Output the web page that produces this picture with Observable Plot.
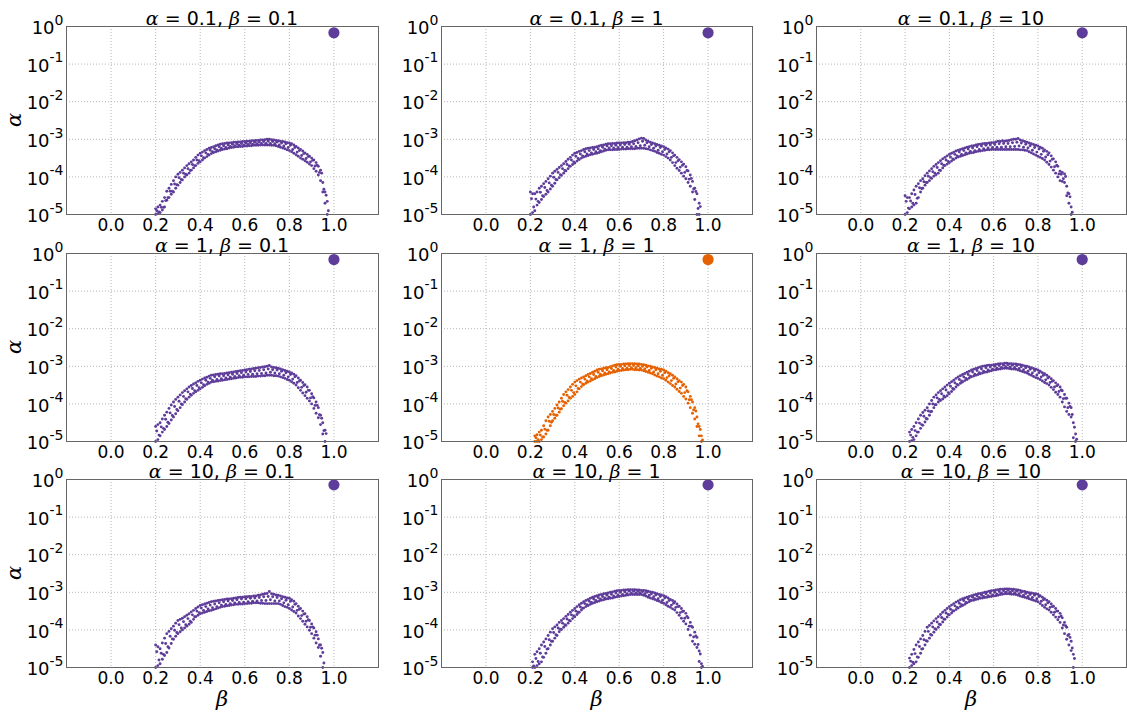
<!DOCTYPE html>
<html><head><meta charset="utf-8">
<script src="https://cdn.jsdelivr.net/npm/d3@7"></script>
<script src="https://cdn.jsdelivr.net/npm/@observablehq/plot@0.6"></script>
<style>
body{margin:0;background:#fff;}
#root{position:relative;width:1127px;height:715px;overflow:hidden;background:#fff;font-family:"DejaVu Sans",sans-serif;color:#000;}
.title{position:absolute;font-size:19px;line-height:19px;white-space:nowrap;text-align:center;}
.m{font-family:"DejaVu Serif",serif;font-style:italic;}
.panel{position:absolute;}
.lab{position:absolute;font-family:"DejaVu Serif",serif;font-style:italic;font-size:21px;line-height:21px;white-space:nowrap;}
</style></head><body><div id="root"></div><script>
// ---------- data ----------
const alphaValues = ["0.1", "1", "10"];   // rows
const betaValues  = ["0.1", "1", "10"];   // columns
const betaTicks  = [0, 0.2, 0.4, 0.6, 0.8, 1.0];
const alphaTicks = [1e-5, 1e-4, 1e-3, 1e-2, 1e-1, 1];

const betaA = [0.20,0.21,0.22,0.23,0.24,0.25,0.26,0.27,0.28,0.29,
0.30,0.31,0.32,0.33,0.34,0.35,0.36,0.37,0.38,0.39,
0.40,0.41,0.42,0.43,0.44,0.45,0.46,0.47,0.48,0.49,
0.50,0.51,0.52,0.53,0.54,0.55,0.56,0.57,0.58,0.59,
0.60,0.61,0.62,0.63,0.64,0.65,0.66,0.67,0.68,0.69,
0.70,0.71,0.72,0.73,0.74,0.75,0.76,0.77,0.78,0.79,
0.80,0.81,0.82,0.83,0.84,0.85,0.86,0.87,0.88,0.89,
0.90,0.91,0.92,0.93,0.94,0.95,0.96,0.97];
const betaB = [0.205,0.215,0.225,0.235,0.245,0.255,0.265,0.275,0.285,0.295,
0.305,0.315,0.325,0.335,0.345,0.355,0.365,0.375,0.385,0.395,
0.405,0.415,0.425,0.435,0.445,0.455,0.465,0.475,0.485,0.495,
0.505,0.515,0.525,0.535,0.545,0.555,0.565,0.575,0.585,0.595,
0.605,0.615,0.625,0.635,0.645,0.655,0.665,0.675,0.685,0.695,
0.705,0.715,0.725,0.735,0.745,0.755,0.765,0.775,0.785,0.795,
0.805,0.815,0.825,0.835,0.845,0.855,0.865,0.875,0.885,0.895,
0.905,0.915,0.925,0.935,0.945,0.955,0.965,0.975];

// log10(alpha) of the scattered points: upper edge (Hi, at betaA), inner scatter (Mid, at betaB), lower edge (Lo, at betaA)
// panel 1: alpha=0.1, beta=0.1
const p1Hi = [-4.85,-4.80,-4.75,-4.65,-4.55,-4.38,-4.30,-4.20,-4.10,-4.00,
-3.93,-3.88,-3.82,-3.76,-3.70,-3.65,-3.60,-3.55,-3.48,-3.42,
-3.37,-3.34,-3.30,-3.27,-3.24,-3.22,-3.20,-3.17,-3.15,-3.13,
-3.12,-3.11,-3.10,-3.10,-3.09,-3.08,-3.08,-3.07,-3.07,-3.06,
-3.06,-3.05,-3.05,-3.04,-3.04,-3.03,-3.03,-3.02,-3.02,-3.01,
-3.00,-3.00,-3.01,-3.02,-3.03,-3.04,-3.05,-3.06,-3.07,-3.09,
-3.10,-3.12,-3.15,-3.19,-3.23,-3.27,-3.31,-3.36,-3.40,-3.45,
-3.50,-3.55,-3.62,-3.72,-3.82,-4.15,-4.40,-4.65];
const p1Mid = [-4.90,-4.93,-4.81,-4.81,-4.63,-4.55,-4.38,-4.38,-4.19,-4.21,
-4.02,-4.07,-3.90,-3.93,-3.78,-3.83,-3.67,-3.70,-3.55,-3.57,
-3.44,-3.49,-3.36,-3.40,-3.29,-3.33,-3.25,-3.28,-3.20,-3.24,
-3.17,-3.22,-3.15,-3.19,-3.13,-3.17,-3.12,-3.16,-3.11,-3.15,
-3.10,-3.14,-3.09,-3.13,-3.08,-3.12,-3.07,-3.11,-3.06,-3.11,
-3.05,-3.11,-3.06,-3.12,-3.07,-3.15,-3.10,-3.18,-3.12,-3.22,
-3.16,-3.27,-3.22,-3.34,-3.30,-3.43,-3.38,-3.51,-3.46,-3.60,
-3.56,-3.71,-3.69,-3.88,-3.90,-4.33,-4.49,-4.90];
const p1Lo = [-5.00,-4.98,-4.95,-4.88,-4.80,-4.62,-4.55,-4.46,-4.40,-4.30,
-4.22,-4.15,-4.08,-4.00,-3.95,-3.90,-3.82,-3.76,-3.70,-3.64,
-3.60,-3.55,-3.50,-3.46,-3.42,-3.38,-3.35,-3.33,-3.31,-3.29,
-3.27,-3.26,-3.25,-3.23,-3.22,-3.21,-3.20,-3.20,-3.19,-3.19,
-3.18,-3.18,-3.17,-3.17,-3.16,-3.16,-3.16,-3.15,-3.15,-3.15,
-3.15,-3.15,-3.16,-3.16,-3.17,-3.19,-3.21,-3.23,-3.25,-3.28,
-3.30,-3.33,-3.37,-3.41,-3.45,-3.50,-3.53,-3.57,-3.61,-3.66,
-3.70,-3.78,-3.85,-3.95,-4.10,-4.40,-4.70,-5.00];
// panel 2: alpha=0.1, beta=1
const p2Hi = [-4.40,-4.45,-4.45,-4.40,-4.30,-4.25,-4.18,-4.12,-4.05,-3.98,
-3.90,-3.85,-3.80,-3.75,-3.70,-3.65,-3.59,-3.53,-3.48,-3.42,
-3.37,-3.35,-3.32,-3.30,-3.27,-3.25,-3.24,-3.23,-3.22,-3.21,
-3.20,-3.18,-3.16,-3.15,-3.13,-3.12,-3.12,-3.11,-3.11,-3.10,
-3.10,-3.10,-3.09,-3.09,-3.08,-3.08,-3.06,-3.04,-3.02,-2.99,
-2.97,-2.98,-3.02,-3.05,-3.08,-3.10,-3.12,-3.14,-3.16,-3.18,
-3.20,-3.23,-3.26,-3.30,-3.36,-3.42,-3.48,-3.54,-3.60,-3.66,
-3.73,-3.84,-3.95,-4.12,-4.30,-4.45,-4.70,null];
const p2Mid = [-4.58,-4.80,-4.59,-4.65,-4.41,-4.50,-4.28,-4.36,-4.16,-4.22,
-4.01,-4.07,-3.88,-3.94,-3.78,-3.83,-3.67,-3.71,-3.55,-3.60,
-3.45,-3.51,-3.39,-3.44,-3.33,-3.39,-3.30,-3.36,-3.27,-3.33,
-3.25,-3.30,-3.21,-3.26,-3.18,-3.23,-3.17,-3.23,-3.16,-3.22,
-3.15,-3.21,-3.14,-3.21,-3.13,-3.20,-3.12,-3.19,-3.09,-3.17,
-3.05,-3.16,-3.09,-3.20,-3.14,-3.24,-3.18,-3.29,-3.22,-3.33,
-3.27,-3.39,-3.33,-3.48,-3.44,-3.62,-3.57,-3.74,-3.69,-3.88,
-3.83,-4.06,-4.04,-4.32,-4.39,-4.84,-4.79,null];
const p2Lo = [-5.00,-4.95,-4.90,-4.75,-4.68,-4.60,-4.52,-4.46,-4.40,-4.32,
-4.25,-4.17,-4.08,-4.02,-3.96,-3.90,-3.84,-3.78,-3.72,-3.67,
-3.63,-3.58,-3.54,-3.50,-3.47,-3.45,-3.43,-3.41,-3.40,-3.38,
-3.37,-3.35,-3.33,-3.31,-3.29,-3.28,-3.28,-3.28,-3.27,-3.27,
-3.27,-3.26,-3.26,-3.26,-3.25,-3.25,-3.25,-3.25,-3.24,-3.24,
-3.24,-3.24,-3.25,-3.26,-3.28,-3.30,-3.32,-3.35,-3.37,-3.40,
-3.42,-3.46,-3.50,-3.55,-3.62,-3.70,-3.77,-3.83,-3.90,-3.98,
-4.05,-4.15,-4.25,-4.40,-4.60,-5.00,-5.00,null];
// panel 3: alpha=0.1, beta=10
const p3Hi = [-4.50,-4.55,-4.55,-4.45,-4.35,-4.25,-4.18,-4.10,-4.05,-3.97,
-3.90,-3.84,-3.78,-3.72,-3.67,-3.62,-3.57,-3.52,-3.48,-3.44,
-3.40,-3.37,-3.34,-3.31,-3.29,-3.27,-3.25,-3.23,-3.21,-3.20,
-3.18,-3.17,-3.15,-3.14,-3.13,-3.12,-3.11,-3.11,-3.10,-3.09,
-3.09,-3.07,-3.05,-3.06,-3.04,-3.05,-3.04,-3.03,-3.01,-3.00,
-3.00,-2.98,-3.02,-3.04,-3.06,-3.08,-3.10,-3.12,-3.14,-3.16,
-3.18,-3.21,-3.24,-3.28,-3.32,-3.36,-3.44,-3.52,-3.60,-3.72,
-3.85,-3.88,-3.92,-4.25,-4.45,-4.80,null,null];
const p3Mid = [-4.65,-4.83,-4.64,-4.70,-4.47,-4.57,-4.29,-4.31,-4.13,-4.15,
-3.98,-4.02,-3.86,-3.90,-3.75,-3.82,-3.65,-3.69,-3.55,-3.59,
-3.47,-3.52,-3.40,-3.44,-3.34,-3.40,-3.30,-3.36,-3.26,-3.32,
-3.23,-3.30,-3.20,-3.27,-3.18,-3.25,-3.16,-3.23,-3.15,-3.22,
-3.14,-3.21,-3.12,-3.21,-3.11,-3.20,-3.11,-3.20,-3.09,-3.19,
-3.08,-3.18,-3.10,-3.21,-3.13,-3.23,-3.17,-3.29,-3.22,-3.34,
-3.26,-3.40,-3.32,-3.47,-3.41,-3.58,-3.53,-3.73,-3.69,-3.92,
-3.93,-4.05,-3.99,-4.43,-4.53,-4.94,null,null];
const p3Lo = [-5.00,-4.95,-4.85,-4.80,-4.75,-4.70,-4.55,-4.40,-4.30,-4.22,
-4.15,-4.10,-4.04,-3.98,-3.94,-3.90,-3.83,-3.76,-3.70,-3.66,
-3.62,-3.58,-3.54,-3.50,-3.47,-3.45,-3.43,-3.41,-3.39,-3.37,
-3.36,-3.35,-3.33,-3.32,-3.31,-3.30,-3.29,-3.28,-3.28,-3.27,
-3.27,-3.27,-3.27,-3.27,-3.27,-3.27,-3.27,-3.27,-3.27,-3.27,
-3.27,-3.27,-3.28,-3.28,-3.29,-3.30,-3.33,-3.36,-3.39,-3.42,
-3.45,-3.48,-3.51,-3.55,-3.61,-3.67,-3.74,-3.82,-3.90,-4.00,
-4.10,-4.12,-4.15,-4.50,-4.70,-5.00,null,null];
// panel 4: alpha=1, beta=0.1
const p4Hi = [-4.60,-4.55,-4.50,-4.40,-4.30,-4.22,-4.12,-4.03,-3.95,-3.88,
-3.82,-3.76,-3.70,-3.65,-3.60,-3.55,-3.51,-3.47,-3.44,-3.40,
-3.37,-3.34,-3.31,-3.29,-3.26,-3.24,-3.23,-3.22,-3.21,-3.20,
-3.20,-3.19,-3.18,-3.17,-3.16,-3.15,-3.14,-3.13,-3.12,-3.11,
-3.10,-3.09,-3.08,-3.07,-3.06,-3.05,-3.04,-3.03,-3.02,-3.01,
-3.00,-2.98,-3.02,-3.03,-3.04,-3.05,-3.07,-3.09,-3.11,-3.13,
-3.15,-3.18,-3.21,-3.25,-3.31,-3.37,-3.43,-3.49,-3.55,-3.64,
-3.73,-3.84,-3.95,-4.10,-4.30,-4.50,-4.70,null];
const p4Mid = [-4.72,-4.83,-4.61,-4.65,-4.41,-4.49,-4.24,-4.31,-4.07,-4.15,
-3.93,-4.00,-3.80,-3.86,-3.68,-3.74,-3.59,-3.65,-3.51,-3.57,
-3.44,-3.49,-3.37,-3.42,-3.32,-3.37,-3.28,-3.35,-3.26,-3.33,
-3.25,-3.31,-3.23,-3.29,-3.21,-3.27,-3.19,-3.25,-3.17,-3.24,
-3.15,-3.22,-3.14,-3.21,-3.12,-3.20,-3.11,-3.19,-3.09,-3.18,
-3.07,-3.16,-3.09,-3.18,-3.10,-3.20,-3.13,-3.24,-3.17,-3.28,
-3.22,-3.34,-3.28,-3.43,-3.39,-3.56,-3.51,-3.69,-3.64,-3.84,
-3.81,-4.04,-4.04,-4.29,-4.38,-4.71,-4.79,null];
const p4Lo = [-5.00,-4.95,-4.85,-4.75,-4.68,-4.60,-4.52,-4.43,-4.35,-4.26,
-4.18,-4.10,-4.02,-3.95,-3.88,-3.82,-3.77,-3.72,-3.68,-3.64,
-3.60,-3.56,-3.52,-3.48,-3.45,-3.42,-3.41,-3.40,-3.39,-3.38,
-3.37,-3.36,-3.35,-3.34,-3.33,-3.32,-3.31,-3.30,-3.29,-3.29,
-3.28,-3.28,-3.28,-3.27,-3.27,-3.27,-3.26,-3.26,-3.25,-3.25,
-3.24,-3.24,-3.24,-3.25,-3.25,-3.26,-3.28,-3.30,-3.32,-3.35,
-3.37,-3.41,-3.45,-3.50,-3.57,-3.64,-3.71,-3.78,-3.85,-3.92,
-4.00,-4.12,-4.25,-4.37,-4.55,-4.80,-5.00,null];
// panel 5: alpha=1, beta=1 (highlighted)
const p5Hi = [null,null,-4.85,-4.82,-4.75,-4.70,-4.58,-4.45,-4.35,-4.28,
-4.20,-4.12,-4.03,-3.95,-3.85,-3.75,-3.68,-3.62,-3.55,-3.48,
-3.42,-3.38,-3.34,-3.31,-3.28,-3.25,-3.22,-3.19,-3.16,-3.13,
-3.10,-3.08,-3.07,-3.05,-3.04,-3.03,-3.01,-2.99,-2.97,-2.96,
-2.95,-2.95,-2.94,-2.94,-2.93,-2.93,-2.93,-2.93,-2.94,-2.94,
-2.95,-2.96,-2.97,-2.99,-3.00,-3.02,-3.03,-3.05,-3.07,-3.08,
-3.10,-3.13,-3.17,-3.20,-3.24,-3.28,-3.33,-3.38,-3.42,-3.48,
-3.55,-3.68,-3.80,-3.95,-4.10,-4.35,-4.60,-4.85];
const p5Mid = [null,null,-4.90,-4.95,-4.83,-4.88,-4.67,-4.70,-4.46,-4.49,
-4.28,-4.30,-4.11,-4.14,-3.93,-3.96,-3.77,-3.83,-3.64,-3.70,
-3.52,-3.59,-3.42,-3.47,-3.34,-3.39,-3.28,-3.33,-3.22,-3.27,
-3.16,-3.21,-3.12,-3.18,-3.09,-3.15,-3.06,-3.11,-3.02,-3.08,
-3.00,-3.06,-2.99,-3.05,-2.98,-3.04,-2.98,-3.04,-2.99,-3.05,
-3.00,-3.07,-3.02,-3.11,-3.05,-3.15,-3.09,-3.20,-3.13,-3.24,
-3.17,-3.30,-3.25,-3.38,-3.32,-3.47,-3.41,-3.58,-3.51,-3.70,
-3.65,-3.89,-3.89,-4.16,-4.19,-4.53,-4.68,-4.96];
const p5Lo = [null,null,-5.00,-5.00,-5.00,-4.95,-4.88,-4.80,-4.70,-4.58,
-4.45,-4.38,-4.30,-4.22,-4.13,-4.05,-3.98,-3.92,-3.85,-3.80,
-3.75,-3.68,-3.60,-3.54,-3.49,-3.45,-3.42,-3.39,-3.36,-3.33,
-3.30,-3.27,-3.25,-3.23,-3.21,-3.20,-3.18,-3.16,-3.15,-3.13,
-3.12,-3.11,-3.10,-3.09,-3.09,-3.08,-3.08,-3.09,-3.09,-3.10,
-3.10,-3.12,-3.14,-3.16,-3.18,-3.20,-3.23,-3.26,-3.28,-3.31,
-3.33,-3.37,-3.42,-3.46,-3.51,-3.55,-3.61,-3.67,-3.72,-3.80,
-3.87,-3.98,-4.10,-4.25,-4.40,-4.60,-4.85,-5.00];
// panel 6: alpha=1, beta=10
const p6Hi = [null,null,-4.75,-4.68,-4.60,-4.50,-4.40,-4.30,-4.23,-4.17,
-4.10,-4.00,-3.91,-3.82,-3.76,-3.70,-3.65,-3.60,-3.55,-3.50,
-3.45,-3.41,-3.37,-3.32,-3.28,-3.25,-3.22,-3.19,-3.16,-3.13,
-3.10,-3.08,-3.06,-3.04,-3.02,-3.00,-2.99,-2.98,-2.97,-2.97,
-2.96,-2.95,-2.94,-2.93,-2.93,-2.92,-2.92,-2.93,-2.93,-2.94,
-2.94,-2.95,-2.96,-2.97,-2.99,-3.00,-3.02,-3.04,-3.06,-3.08,
-3.10,-3.13,-3.17,-3.20,-3.24,-3.28,-3.33,-3.38,-3.44,-3.49,
-3.55,-3.65,-3.75,-3.85,-3.98,-4.10,-4.50,-4.80];
const p6Mid = [null,null,-4.83,-4.89,-4.71,-4.75,-4.51,-4.55,-4.33,-4.39,
-4.19,-4.21,-4.00,-4.02,-3.84,-3.88,-3.73,-3.79,-3.63,-3.70,
-3.53,-3.59,-3.44,-3.48,-3.35,-3.39,-3.28,-3.32,-3.22,-3.26,
-3.15,-3.21,-3.11,-3.17,-3.07,-3.13,-3.04,-3.10,-3.02,-3.08,
-3.00,-3.05,-2.98,-3.03,-2.97,-3.01,-2.96,-3.02,-2.97,-3.03,
-2.98,-3.06,-3.01,-3.09,-3.04,-3.13,-3.08,-3.18,-3.12,-3.23,
-3.17,-3.28,-3.24,-3.36,-3.31,-3.43,-3.40,-3.55,-3.52,-3.67,
-3.63,-3.86,-3.85,-4.10,-4.07,-4.28,-4.62,-4.94];
const p6Lo = [null,null,-5.00,-4.98,-4.95,-4.85,-4.75,-4.65,-4.57,-4.48,
-4.40,-4.30,-4.20,-4.10,-4.02,-3.95,-3.91,-3.87,-3.82,-3.78,
-3.73,-3.67,-3.61,-3.55,-3.50,-3.45,-3.42,-3.38,-3.35,-3.31,
-3.28,-3.26,-3.24,-3.22,-3.20,-3.18,-3.16,-3.15,-3.13,-3.12,
-3.10,-3.09,-3.08,-3.07,-3.06,-3.05,-3.05,-3.06,-3.07,-3.07,
-3.08,-3.10,-3.12,-3.14,-3.16,-3.18,-3.21,-3.24,-3.27,-3.30,
-3.32,-3.35,-3.39,-3.43,-3.46,-3.50,-3.56,-3.62,-3.69,-3.75,
-3.82,-3.95,-4.08,-4.20,-4.28,-4.35,-4.90,-5.00];
// panel 7: alpha=10, beta=0.1
const p7Hi = [-4.40,-4.45,-4.50,-4.35,-4.22,-4.10,-4.04,-3.97,-3.90,-3.82,
-3.75,-3.72,-3.69,-3.65,-3.61,-3.57,-3.52,-3.48,-3.43,-3.39,
-3.35,-3.33,-3.31,-3.29,-3.27,-3.25,-3.24,-3.23,-3.22,-3.21,
-3.20,-3.19,-3.18,-3.18,-3.17,-3.16,-3.15,-3.14,-3.13,-3.13,
-3.12,-3.12,-3.11,-3.11,-3.10,-3.10,-3.08,-3.07,-3.05,-3.04,
-3.03,-2.98,-3.04,-3.05,-3.07,-3.08,-3.10,-3.12,-3.13,-3.15,
-3.16,-3.20,-3.24,-3.30,-3.37,-3.43,-3.50,-3.57,-3.65,-3.75,
-3.84,-3.95,-4.05,-4.24,-4.40,-4.60,null,null];
const p7Mid = [-4.58,-4.80,-4.62,-4.65,-4.36,-4.45,-4.17,-4.24,-4.01,-4.07,
-3.86,-3.95,-3.78,-3.86,-3.70,-3.77,-3.60,-3.65,-3.50,-3.54,
-3.42,-3.48,-3.38,-3.44,-3.34,-3.41,-3.31,-3.38,-3.28,-3.34,
-3.25,-3.32,-3.23,-3.30,-3.22,-3.28,-3.20,-3.27,-3.18,-3.26,
-3.17,-3.25,-3.16,-3.24,-3.15,-3.23,-3.14,-3.22,-3.12,-3.22,
-3.11,-3.20,-3.12,-3.23,-3.14,-3.23,-3.17,-3.28,-3.21,-3.33,
-3.24,-3.39,-3.32,-3.48,-3.45,-3.62,-3.58,-3.77,-3.73,-3.93,
-3.92,-4.14,-4.14,-4.40,-4.49,-4.88,null,null];
const p7Lo = [-5.00,-4.95,-4.90,-4.78,-4.68,-4.60,-4.48,-4.36,-4.25,-4.17,
-4.10,-4.05,-4.00,-3.95,-3.90,-3.85,-3.80,-3.72,-3.65,-3.61,
-3.57,-3.55,-3.53,-3.51,-3.49,-3.48,-3.46,-3.44,-3.42,-3.40,
-3.38,-3.37,-3.36,-3.35,-3.34,-3.33,-3.32,-3.32,-3.31,-3.31,
-3.30,-3.30,-3.29,-3.29,-3.28,-3.28,-3.28,-3.29,-3.29,-3.30,
-3.30,-3.30,-3.30,-3.30,-3.30,-3.30,-3.32,-3.35,-3.38,-3.40,
-3.43,-3.47,-3.51,-3.55,-3.63,-3.70,-3.77,-3.85,-3.92,-4.01,
-4.10,-4.22,-4.35,-4.47,-4.70,-5.00,null,null];
// panel 8: alpha=10, beta=1
const p8Hi = [null,-4.85,-4.65,-4.58,-4.50,-4.40,-4.32,-4.24,-4.15,-4.06,
-3.97,-3.92,-3.87,-3.80,-3.75,-3.70,-3.64,-3.59,-3.53,-3.48,
-3.43,-3.38,-3.33,-3.29,-3.25,-3.22,-3.19,-3.16,-3.13,-3.11,
-3.09,-3.07,-3.06,-3.04,-3.03,-3.02,-3.00,-2.99,-2.97,-2.96,
-2.95,-2.95,-2.94,-2.94,-2.93,-2.93,-2.93,-2.93,-2.94,-2.94,
-2.95,-2.95,-2.96,-2.97,-2.99,-3.00,-3.02,-3.04,-3.06,-3.07,
-3.09,-3.12,-3.15,-3.19,-3.22,-3.25,-3.31,-3.37,-3.43,-3.50,
-3.56,-3.68,-3.80,-3.93,-4.06,-4.20,-4.56,-4.90];
const p8Mid = [null,-4.96,-4.76,-4.84,-4.62,-4.72,-4.44,-4.51,-4.26,-4.30,
-4.07,-4.13,-3.95,-3.98,-3.82,-3.86,-3.71,-3.75,-3.60,-3.63,
-3.50,-3.53,-3.39,-3.42,-3.30,-3.33,-3.24,-3.27,-3.18,-3.22,
-3.14,-3.18,-3.11,-3.15,-3.08,-3.13,-3.05,-3.10,-3.02,-3.07,
-3.00,-3.06,-2.99,-3.04,-2.97,-3.02,-2.97,-3.02,-2.98,-3.02,
-2.98,-3.04,-3.00,-3.08,-3.04,-3.12,-3.07,-3.17,-3.11,-3.21,
-3.15,-3.27,-3.22,-3.34,-3.29,-3.40,-3.38,-3.54,-3.51,-3.69,
-3.64,-3.90,-3.90,-4.19,-4.16,-4.39,-4.64,-4.97];
const p8Lo = [null,-5.00,-5.00,-4.95,-4.90,-4.85,-4.73,-4.62,-4.50,-4.40,
-4.30,-4.22,-4.15,-4.05,-3.99,-3.93,-3.88,-3.82,-3.76,-3.70,
-3.65,-3.59,-3.53,-3.47,-3.42,-3.38,-3.35,-3.32,-3.29,-3.27,
-3.25,-3.23,-3.21,-3.20,-3.18,-3.17,-3.16,-3.15,-3.13,-3.12,
-3.11,-3.10,-3.09,-3.08,-3.07,-3.06,-3.06,-3.06,-3.06,-3.06,
-3.06,-3.08,-3.10,-3.13,-3.15,-3.17,-3.19,-3.22,-3.24,-3.27,
-3.29,-3.33,-3.37,-3.40,-3.44,-3.47,-3.54,-3.61,-3.69,-3.77,
-3.84,-3.99,-4.14,-4.30,-4.38,-4.47,-4.84,-5.00];
// panel 9: alpha=10, beta=10
const p9Hi = [null,null,-4.75,-4.65,-4.52,-4.40,-4.32,-4.24,-4.15,-4.04,
-3.93,-3.88,-3.82,-3.76,-3.70,-3.65,-3.59,-3.53,-3.48,-3.43,
-3.38,-3.34,-3.30,-3.26,-3.23,-3.20,-3.17,-3.15,-3.13,-3.11,
-3.09,-3.07,-3.06,-3.04,-3.03,-3.02,-3.00,-2.99,-2.97,-2.96,
-2.95,-2.94,-2.93,-2.92,-2.92,-2.91,-2.91,-2.91,-2.92,-2.92,
-2.93,-2.94,-2.95,-2.97,-2.98,-3.00,-3.01,-3.02,-3.03,-3.04,
-3.05,-3.09,-3.13,-3.17,-3.21,-3.25,-3.31,-3.37,-3.43,-3.50,
-3.56,-3.68,-3.80,-3.93,-4.12,-4.30,-4.65,null];
const p9Mid = [null,null,-4.83,-4.86,-4.63,-4.72,-4.44,-4.51,-4.26,-4.29,
-4.04,-4.12,-3.92,-3.97,-3.79,-3.85,-3.67,-3.71,-3.55,-3.59,
-3.45,-3.49,-3.36,-3.40,-3.29,-3.33,-3.22,-3.27,-3.18,-3.21,
-3.13,-3.17,-3.10,-3.14,-3.07,-3.11,-3.04,-3.09,-3.02,-3.07,
-3.00,-3.05,-2.98,-3.02,-2.96,-3.00,-2.95,-3.00,-2.96,-3.01,
-2.97,-3.04,-3.00,-3.08,-3.03,-3.11,-3.06,-3.14,-3.08,-3.17,
-3.11,-3.24,-3.20,-3.33,-3.28,-3.40,-3.38,-3.53,-3.50,-3.66,
-3.63,-3.87,-3.89,-4.15,-4.20,-4.48,-4.76,null];
const p9Lo = [null,null,-5.00,-4.95,-4.90,-4.85,-4.73,-4.62,-4.50,-4.40,
-4.30,-4.22,-4.14,-4.06,-3.99,-3.93,-3.86,-3.79,-3.72,-3.66,
-3.60,-3.55,-3.50,-3.46,-3.42,-3.38,-3.35,-3.32,-3.28,-3.25,
-3.22,-3.21,-3.19,-3.18,-3.16,-3.15,-3.14,-3.13,-3.12,-3.11,
-3.10,-3.09,-3.08,-3.06,-3.05,-3.04,-3.04,-3.04,-3.05,-3.05,
-3.06,-3.08,-3.10,-3.12,-3.13,-3.15,-3.17,-3.19,-3.21,-3.23,
-3.25,-3.30,-3.35,-3.40,-3.44,-3.47,-3.53,-3.60,-3.66,-3.73,
-3.80,-3.95,-4.10,-4.25,-4.40,-4.55,-5.00,null];

// the large marker in every panel
const peakBeta  = [1.0, 1.0, 1.0, 1.0, 1.0, 1.0, 1.0, 1.0, 1.0];
const peakAlpha = [0.68, 0.68, 0.68, 0.69, 0.69, 0.69, 0.72, 0.72, 0.72];
const highlighted = [false, false, false, false, true, false, false, false, false];

const panelData = [
  [p1Hi, p1Mid, p1Lo], [p2Hi, p2Mid, p2Lo], [p3Hi, p3Mid, p3Lo],
  [p4Hi, p4Mid, p4Lo], [p5Hi, p5Mid, p5Lo], [p6Hi, p6Mid, p6Lo],
  [p7Hi, p7Mid, p7Lo], [p8Hi, p8Mid, p8Lo], [p9Hi, p9Mid, p9Lo]
];

// ---------- layout ----------
const PURPLE = "#5e3c99", ORANGE = "#e66101";
const colLeft = [66, 441, 816], colWidth = [312, 311, 310];
const rowTop = [26, 253, 479], frameH = 188;
const ML = 64, MR = 8, MT = 8, MB = 34;
const root = document.getElementById("root");
const svgNS = "http://www.w3.org/2000/svg";

function toPoints(xs, vals) {
  const out = [];
  vals.forEach((v, i) => { if (v !== null) out.push({b: xs[i], a: Math.pow(10, v)}); });
  return out;
}

for (let r = 0; r < 3; r++) {
  for (let c = 0; c < 3; c++) {
    const k = r * 3 + c;
    const L = colLeft[c], T = rowTop[r], W = colWidth[c];
    const color = highlighted[k] ? ORANGE : PURPLE;
    const [hi, mid, lo] = panelData[k];
    const pts = [...toPoints(betaA, hi), ...toPoints(betaB, mid), ...toPoints(betaA, lo)];
    const chart = Plot.plot({
      width: W + ML + MR, height: frameH + MT + MB,
      marginLeft: ML, marginRight: MR, marginTop: MT, marginBottom: MB,
      style: {background: "transparent", overflow: "visible", fontFamily: "DejaVu Sans, sans-serif", fontSize: "17px", color: "#000"},
      x: {domain: [-0.2, 1.2]},
      y: {type: "log", domain: [1e-5, 1]},
      marks: [
        Plot.gridX(betaTicks, {stroke: "#b4b4b4", strokeOpacity: 1, strokeWidth: 1, strokeDasharray: "1,2"}),
        Plot.gridY(alphaTicks, {stroke: "#b4b4b4", strokeOpacity: 1, strokeWidth: 1, strokeDasharray: "1,2"}),
        Plot.dot(pts, {x: "b", y: "a", r: 1.45, fill: color}),
        Plot.dot([{b: peakBeta[k], a: peakAlpha[k]}], {x: "b", y: "a", r: 5.6, fill: color}),
        Plot.frame({stroke: "#666", strokeWidth: 1}),
        Plot.axisX(betaTicks, {tickSize: 0, tickPadding: 4, tickFormat: d3.format(".1f"), fontSize: 17, label: null}),
        Plot.axisY(alphaTicks, {tickSize: 0, tickPadding: 3, tickFormat: d => "10^" + Math.round(Math.log10(d)), fontSize: 18, label: null})
      ]
    });
    chart.querySelectorAll('g[aria-label="y-axis tick label"] text').forEach(t => {
      const m = t.textContent.match(/^10\^(-?\d+)$/);
      if (!m) return;
      t.textContent = "10";
      t.setAttribute("font-size", "18px");
      t.setAttribute("dy", "2");
      const ts = document.createElementNS(svgNS, "tspan");
      ts.setAttribute("dy", "-9.5");
      ts.setAttribute("font-size", "14px");
      ts.textContent = m[1];
      t.appendChild(ts);
    });
    chart.classList.add("panel");
    chart.style.position = "absolute";
    chart.style.left = (L - ML) + "px";
    chart.style.top = (T - MT) + "px";
    root.appendChild(chart);

    const title = document.createElement("div");
    title.className = "title";
    title.style.left = L + "px";
    title.style.width = W + "px";
    title.style.top = (T - 17) + "px";
    title.innerHTML = '<span class="m">α</span> = ' + alphaValues[r] + ', <span class="m">β</span> = ' + betaValues[c];
    root.appendChild(title);

    if (c === 0) {
      const yl = document.createElement("div");
      yl.className = "lab";
      yl.textContent = "α";
      yl.style.left = "14px";
      yl.style.top = (T + frameH / 2) + "px";
      yl.style.transform = "translate(-50%,-50%) rotate(-90deg)";
      root.appendChild(yl);
    }
    if (r === 2) {
      const xl = document.createElement("div");
      xl.className = "lab";
      xl.textContent = "β";
      xl.style.left = (L + W / 2) + "px";
      xl.style.top = "689px";
      xl.style.transform = "translateX(-50%)";
      root.appendChild(xl);
    }
  }
}
</script></body></html>
